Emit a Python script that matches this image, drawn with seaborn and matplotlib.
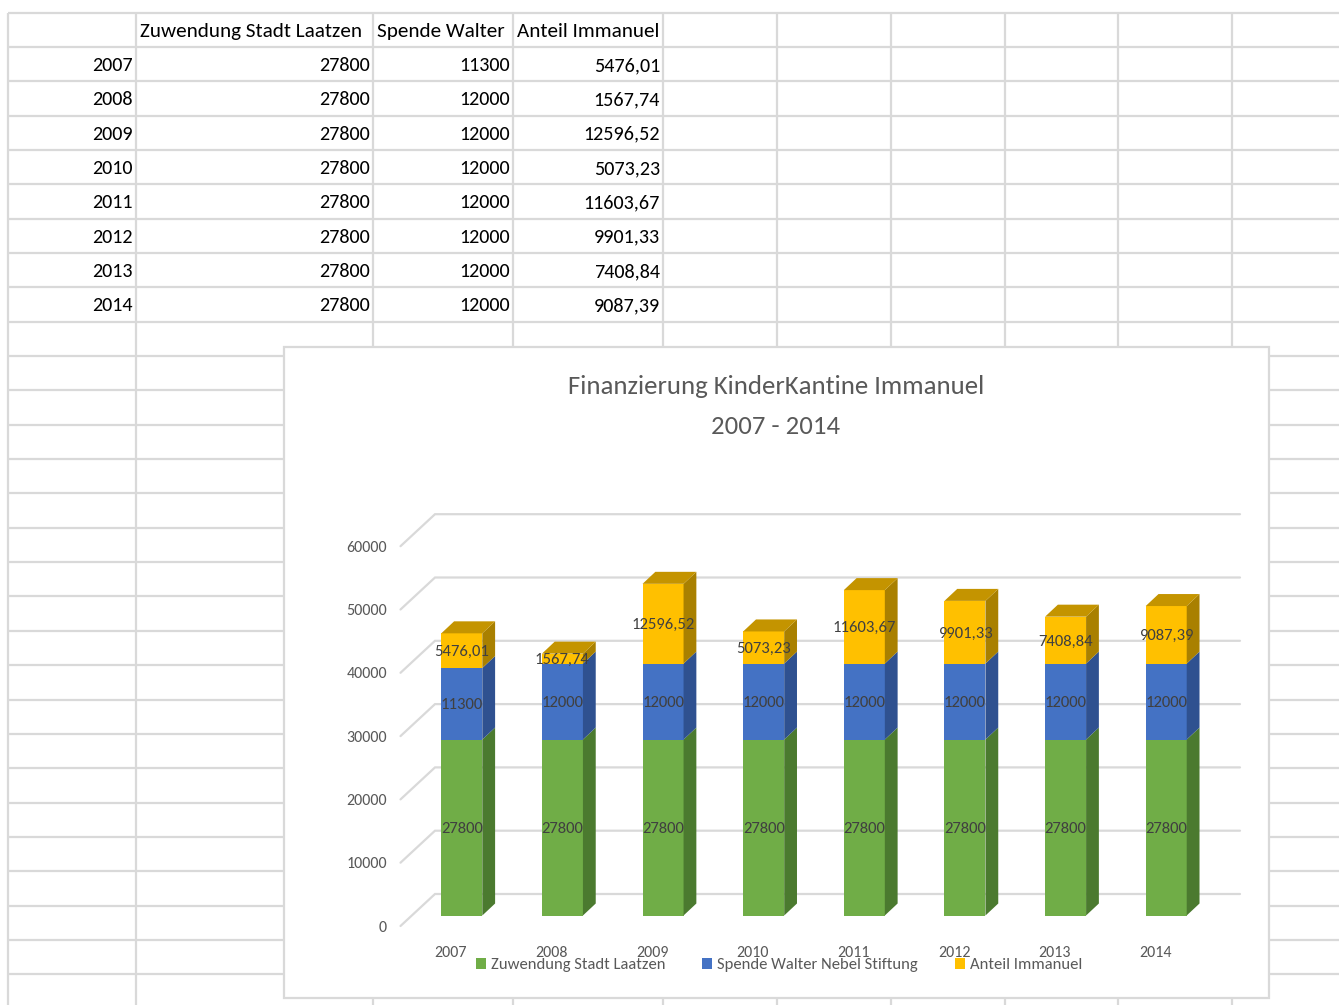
import matplotlib
matplotlib.use("Agg")
import numpy as np
import pandas as pd
import seaborn as sns
import matplotlib.pyplot as plt
from matplotlib.patches import Polygon, Rectangle, Patch

# ---------------- data ----------------
years = ["2007", "2008", "2009", "2010", "2011", "2012", "2013", "2014"]
stadt = [27800, 27800, 27800, 27800, 27800, 27800, 27800, 27800]
walter = [11300, 12000, 12000, 12000, 12000, 12000, 12000, 12000]
immanuel = [5476.01, 1567.74, 12596.52, 5073.23, 11603.67, 9901.33, 7408.84, 9087.39]
table_header = ["Zuwendung Stadt Laatzen", "Spende Walter", "Anteil Immanuel"]
series_names = ["Zuwendung Stadt Laatzen", "Spende Walter Nebel Stiftung", "Anteil Immanuel"]
title_lines = ["Finanzierung KinderKantine Immanuel", "2007 - 2014"]
y_ticks = [0, 10000, 20000, 30000, 40000, 50000, 60000]

front_colors = ["#70AD47", "#4472C4", "#FFC000"]
side_colors = ["#4B7A2F", "#2F5190", "#A98000"]
top_color = "#C49400"
GRID = "#D9D9D9"
TXT = "#595959"


def de(v):
    if float(v).is_integer():
        return str(int(v))
    return f"{v:.2f}".replace(".", ",")


sns.set_theme(style="white")
plt.rcParams["font.family"] = ["Carlito", "DejaVu Sans"]

W, H = 1339, 1005
fig = plt.figure(figsize=(W / 100, H / 100), dpi=100)
fig.patch.set_facecolor("white")

# ---------------- spreadsheet background ----------------
bg = fig.add_axes([0, 0, 1, 1], zorder=0)
bg.set_xlim(0, W)
bg.set_ylim(H, 0)
bg.axis("off")

row0, row_h = 12.5, 34.35
rows = [row0 + row_h * k for k in range(29)]
cols = [8, 136, 373, 513, 663, 777, 891, 1005, 1118, 1232]
for y in rows:
    bg.plot([8, W], [y, y], color=GRID, lw=1.6, solid_capstyle="butt", zorder=1)
for x in cols:
    bg.plot([x, x], [row0, H], color=GRID, lw=1.6, solid_capstyle="butt", zorder=1)

sheet_fs = 14.5
hc = row0 + row_h * 0.5
for x, t in zip([140, 377, 517], table_header):
    bg.text(x, hc, t, ha="left", va="center_baseline", fontsize=15.2, color="black", zorder=2)
for k, yr in enumerate(years):
    yc = row0 + row_h * (k + 1.5)
    bg.text(133, yc, yr, ha="right", va="center_baseline", fontsize=sheet_fs, color="black", zorder=2)
    for x, val in zip([370, 510, 660], [stadt[k], walter[k], immanuel[k]]):
        bg.text(x, yc, de(val), ha="right", va="center_baseline", fontsize=sheet_fs, color="black", zorder=2)

# chart area box
bg.add_patch(Rectangle((284, 347), 985, 651, facecolor="white", edgecolor=GRID, lw=1.6, zorder=3))

# title
fig.text(776 / W, 1 - 385 / H, title_lines[0], ha="center", va="center_baseline",
         fontsize=19.3, color=TXT, zorder=5)
fig.text(776 / W, 1 - 425 / H, title_lines[1], ha="center", va="center_baseline",
         fontsize=19.3, color=TXT, zorder=5)

# ---------------- chart axes ----------------
L, R, T, B = 380, 1250, 470, 945
x0, sx = 461.8, 100.63          # pixel of first bar centre, pixels per category
y0, sy = 915.5, 0.00633         # pixel of value 0 on bar fronts, pixels per unit
ax = fig.add_axes([L / W, 1 - B / H, (R - L) / W, (B - T) / H], zorder=4)
ax.patch.set_alpha(0)

xf, xb, xe = (400.5 - x0) / sx, (435 - x0) / sx, (1240 - x0) / sx
off_front, off_back = (y0 - 926) / sy, (y0 - 894) / sy
for v in y_ticks:
    ax.plot([xf, xb, xe], [v + off_front, v + off_back, v + off_back],
            color=GRID, lw=1.6, zorder=1, solid_joinstyle="miter")
    ax.text((387 - x0) / sx, v + off_front, str(v), ha="right", va="center_baseline",
            fontsize=11.5, color=TXT, clip_on=False)

df = pd.DataFrame({"year": years, "stadt": stadt, "walter": walter, "immanuel": immanuel})
cols_s = ["stadt", "walter", "immanuel"]
bottoms = [np.zeros(len(years)), np.array(stadt, float), np.array(stadt, float) + np.array(walter, float)]
bw = 41 / sx
dx, dy = 12.8 / sx, 12 / sy

for col, bot, fc, scol in zip(cols_s, bottoms, front_colors, side_colors):
    sns.barplot(data=df, x="year", y=col, bottom=bot, color=fc, width=bw, saturation=1,
                errorbar=None, linewidth=0, ax=ax, zorder=3)
    for i, (b, v) in enumerate(zip(bot, df[col].to_numpy(float))):
        xr = i + bw / 2
        ax.add_patch(Polygon([(xr, b), (xr + dx, b + dy), (xr + dx, b + v + dy), (xr, b + v)],
                             closed=True, facecolor=scol, edgecolor="none", zorder=3))
        ax.text(i, b + v / 2, de(v), ha="center", va="center_baseline", fontsize=12,
                color="#404040", zorder=6)

tops = bottoms[2] + np.array(immanuel, float)
for i, tv in enumerate(tops):
    xl, xr = i - bw / 2, i + bw / 2
    ax.add_patch(Polygon([(xl, tv), (xl + dx, tv + dy), (xr + dx, tv + dy), (xr, tv)],
                         closed=True, facecolor=top_color, edgecolor="none", zorder=3))

for i, yr in enumerate(years):
    ax.text(i + (451 - x0) / sx, (y0 - 951) / sy, yr, ha="center", va="center_baseline",
            fontsize=11.5, color=TXT, clip_on=False)

ax.set_xlim((L - x0) / sx, (R - x0) / sx)
ax.set_ylim((y0 - B) / sy, (y0 - T) / sy)
ax.set_xticks([])
ax.set_yticks([])
ax.set_xlabel("")
ax.set_ylabel("")
for s in ax.spines.values():
    s.set_visible(False)

handles = [Patch(facecolor=c, edgecolor="none", label=n) for c, n in zip(front_colors, series_names)]
leg = fig.legend(handles=handles, loc="center", bbox_to_anchor=(779 / W, 1 - 965 / H), ncol=3,
                 frameon=False, fontsize=12, handlelength=0.6, handleheight=0.6,
                 handletextpad=0.3, columnspacing=2.2, labelcolor=TXT, borderpad=0)
leg.set_zorder(6)

fig.savefig("out.png", dpi=100, facecolor="white")
